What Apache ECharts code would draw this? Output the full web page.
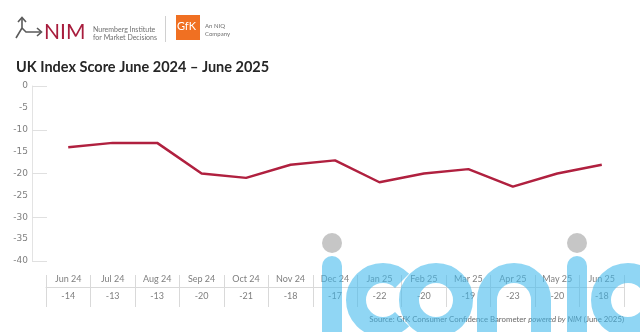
<!DOCTYPE html>
<html>
<head>
<meta charset="utf-8">
<script src="https://cdn.jsdelivr.net/npm/echarts@6/dist/echarts.min.js"></script>
<style>
  html, body { margin: 0; padding: 0; background: #ffffff; }
  #chart { width: 640px; height: 332px; }
</style>
</head>
<body>
<div id="chart"></div>
<script>
// UK consumer confidence index, monthly
const months = ['Jun 24', 'Jul 24', 'Aug 24', 'Sep 24', 'Oct 24', 'Nov 24', 'Dec 24',
                'Jan 25', 'Feb 25', 'Mar 25', 'Apr 25', 'May 25', 'Jun 25'];
const scores = [-14, -13, -13, -20, -21, -18, -17, -22, -20, -19, -23, -20, -18];
const yTicks = [0, -5, -10, -15, -20, -25, -30, -35, -40];

const FONT = 'Lato, "Open Sans", sans-serif';
const GRAY = '#7f7f7f';
const RULE = '#d9d9d9';
const WM = 'rgba(64,184,236,0.58)';
const WM_DOT = 'rgba(160,160,160,0.6)';

const chart = echarts.init(document.getElementById('chart'), null, { renderer: 'canvas' });

// header logo pieces
const logo = [
  { type: 'polyline', shape: { points: [[18, 22], [22, 17.5], [26, 22]] },
    style: { stroke: '#5a5a5a', lineWidth: 1.6, fill: null } },
  { type: 'polyline', shape: { points: [[22, 18], [22, 28], [16, 38]] },
    style: { stroke: '#5a5a5a', lineWidth: 1.6, fill: null } },
  { type: 'polyline', shape: { points: [[22, 28], [26, 32], [41, 32]] },
    style: { stroke: '#5a5a5a', lineWidth: 1.6, fill: null } },
  { type: 'polyline', shape: { points: [[37, 28], [41.5, 32], [37, 36]] },
    style: { stroke: '#5a5a5a', lineWidth: 1.6, fill: null } },
  { type: 'text', left: 44, top: 22,
    style: { text: 'NIM', fill: '#a81d3d', font: '400 21px ' + FONT } },
  { type: 'text', left: 93, top: 25,
    style: { text: 'Nuremberg Institute\nfor Market Decisions', fill: '#6f6f6f',
             font: '400 7px ' + FONT, lineHeight: 8.5 } },
  { type: 'line', shape: { x1: 165.5, y1: 16, x2: 165.5, y2: 42 },
    style: { stroke: '#d0d0d0', lineWidth: 1 } },
  { type: 'rect', shape: { x: 176, y: 15, width: 24, height: 25 },
    style: { fill: '#f07022' } },
  { type: 'text', left: 177, top: 21,
    style: { text: 'GfK', fill: '#ffffff', font: '400 11px ' + FONT } },
  { type: 'text', left: 205, top: 22,
    style: { text: 'An NIQ\nCompany', fill: '#6f6f6f', font: '400 6px ' + FONT, lineHeight: 8 } }
];

// translucent "iconic" mark drawn over the lower right
const R = 27, SW = 20, CY = 300;
const watermark = [
  { type: 'rect', shape: { x: 322, y: 256, width: 20, height: 80, r: [10, 10, 0, 0] },
    style: { fill: WM } },
  { type: 'circle', shape: { cx: 332, cy: 243, r: 10 }, style: { fill: WM_DOT } },
  { type: 'arc', shape: { cx: 383, cy: CY, r: R, startAngle: Math.PI / 4, endAngle: Math.PI * 7 / 4, clockwise: true },
    style: { stroke: WM, lineWidth: SW, fill: null, lineCap: 'butt' } },
  { type: 'arc', shape: { cx: 436, cy: CY, r: R, startAngle: 0, endAngle: Math.PI * 2, clockwise: true },
    style: { stroke: WM, lineWidth: SW, fill: null } },
  { type: 'arc', shape: { cx: 514, cy: CY, r: R, startAngle: Math.PI, endAngle: Math.PI * 2, clockwise: true },
    style: { stroke: WM, lineWidth: SW, fill: null, lineCap: 'butt' } },
  { type: 'rect', shape: { x: 477, y: CY, width: 20, height: 40 }, style: { fill: WM } },
  { type: 'rect', shape: { x: 531, y: CY, width: 20, height: 40 }, style: { fill: WM } },
  { type: 'rect', shape: { x: 567, y: 256, width: 20, height: 80, r: [10, 10, 0, 0] },
    style: { fill: WM } },
  { type: 'circle', shape: { cx: 577, cy: 243, r: 10 }, style: { fill: WM_DOT } },
  { type: 'arc', shape: { cx: 628, cy: CY, r: R, startAngle: Math.PI / 4, endAngle: Math.PI * 7 / 4, clockwise: true },
    style: { stroke: WM, lineWidth: SW, fill: null, lineCap: 'butt' } }
].map(g => Object.assign(g, { z: 100 }));

const gridBox = { left: 46, right: 16, top: 86, bottom: 71, containLabel: false };

chart.setOption({
  animation: false,
  backgroundColor: '#ffffff',
  textStyle: { fontFamily: FONT },
  title: {
    text: 'UK Index Score June 2024 \u2013 June 2025',
    left: 11, top: 55,
    textStyle: { fontFamily: FONT, fontSize: 14.5, fontWeight: 'bold', color: '#262626' }
  },
  // two stacked grids with the same box: one for the month row, one for the value row
  grid: [Object.assign({}, gridBox), Object.assign({}, gridBox)],
  xAxis: [
    {
      gridIndex: 0, type: 'category', data: months, position: 'bottom', offset: 26, boundaryGap: true,
      axisLine: { show: true, onZero: false, lineStyle: { color: RULE, width: 1 } },
      axisTick: { show: true, inside: true, length: 12, lineStyle: { color: RULE } },
      axisLabel: { inside: true, margin: 3, color: GRAY, fontSize: 9, fontFamily: FONT },
      splitLine: { show: false }
    },
    {
      gridIndex: 1, type: 'category', data: scores.map(String), position: 'bottom', offset: 26, boundaryGap: true,
      axisLine: { show: false, onZero: false },
      axisTick: { show: true, inside: false, length: 20, lineStyle: { color: RULE } },
      axisLabel: { margin: 5, color: GRAY, fontSize: 9, fontFamily: FONT },
      splitLine: { show: false }
    }
  ],
  yAxis: [
    {
      gridIndex: 0, type: 'value', min: -40, max: 0, interval: 5, offset: 14, position: 'left',
      axisLine: { show: true, onZero: false, lineStyle: { color: '#e3e3e3' } },
      axisTick: { show: false },
      axisLabel: { margin: 4, color: GRAY, fontSize: 9, fontFamily: '"DejaVu Sans", sans-serif',
                   customValues: yTicks },
      splitLine: { show: false }
    },
    {
      gridIndex: 1, type: 'value', min: -40, max: 0, interval: 10, offset: 14, position: 'left',
      axisLine: { show: false, onZero: false },
      axisTick: { show: true, inside: true, length: 15, lineStyle: { color: '#e0e0e0' } },
      axisLabel: { show: false },
      splitLine: { show: false }
    }
  ],
  series: [{
    type: 'line', data: scores, xAxisIndex: 0, yAxisIndex: 0,
    symbol: 'none', smooth: false,
    lineStyle: { color: '#b0203f', width: 2.5 }
  }],
  graphic: [
    ...logo,
    { type: 'text', right: 16, top: 315, z: 50,
      style: {
        text: '{n|Source: GfK Consumer Confidence Barometer }{i|powered by NIM}{n| (June 2025)}',
        rich: {
          n: { fill: '#6a6a6a', font: '400 7.8px ' + FONT },
          i: { fill: '#6a6a6a', font: 'italic 400 7.8px ' + FONT }
        }
      } },
    ...watermark
  ]
});
</script>
</body>
</html>
